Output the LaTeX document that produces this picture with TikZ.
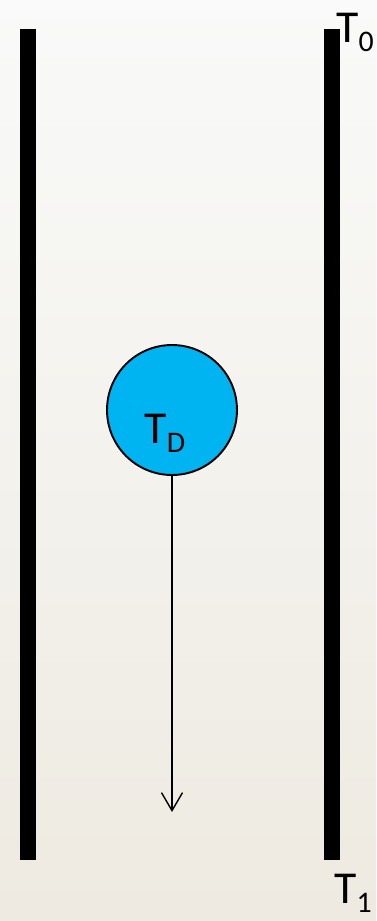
\documentclass[tikz,border=0pt]{standalone}
\usepackage{fontspec}
\setmainfont{Carlito}
\usetikzlibrary{positioning,arrows.meta}

\definecolor{dropblue}{HTML}{00B4F2}
\definecolor{bgtop}{HTML}{F9FAF9}
\definecolor{bgbottom}{HTML}{EEEAE1}

\newcommand{\lowsub}[1]{\raisebox{-5.5pt}{\fontsize{17}{20}\selectfont #1}}

\begin{document}
\begin{tikzpicture}[x=0.02cm, y=-0.02cm,
			wall/.style={rectangle, fill=black, inner sep=0pt, minimum width=0.32cm, minimum height=16.62cm},
			drop/.style={circle, draw, line width=1.1pt, fill=dropblue, minimum size=2.6cm, inner sep=0pt},
			temp/.style={inner sep=0pt, font=\fontsize{26}{30}\selectfont},
			arrow/.style={-{Straight Barb[length=0.36cm, width=0.42cm]}, line width=0.8pt}]

			\fill[top color=bgtop, bottom color=bgbottom] (0,0) rectangle (376,921);
			\useasboundingbox (0,0) rectangle (376,921);

			\node[wall] (L) at (28,444.5) {};
			\node[wall] (R) at (332,444.5) {};
			\node[temp, anchor=base west] (T0) at (336,42) {T\lowsub{0}};
			\node[temp, anchor=base west] (T1) at (334,903) {T\lowsub{1}};

			\node[drop] (D) at (172,410) {};
			\node[temp, anchor=base] (TD) at (165,443) {T\lowsub{D}};
			\coordinate (end) at (172,812);

			\draw[arrow] (D) -- (end);
		\end{tikzpicture}
\end{document}
